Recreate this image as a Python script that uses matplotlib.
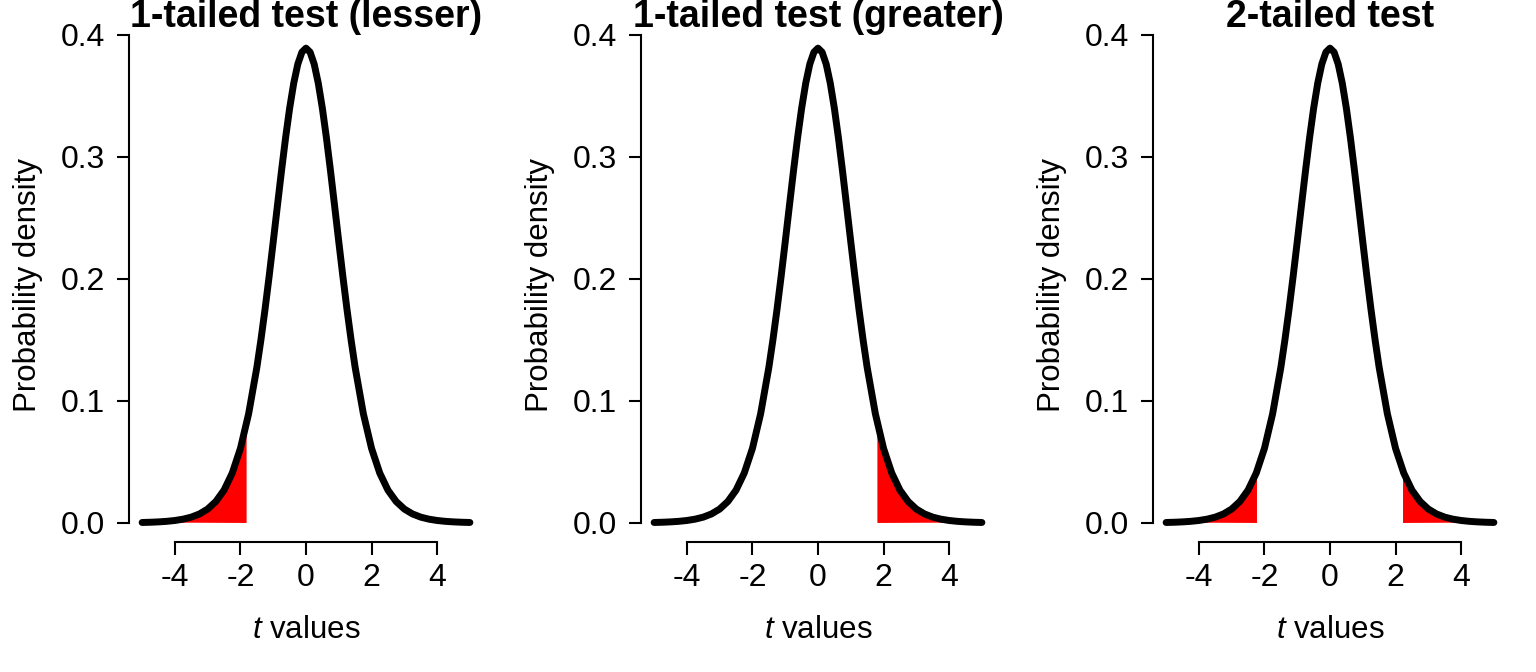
import numpy as np
import matplotlib
matplotlib.use("Agg")
import matplotlib.pyplot as plt

plt.rcParams['font.family'] = ['Liberation Sans', 'DejaVu Sans']
plt.rcParams['mathtext.fontset'] = 'custom'
plt.rcParams['mathtext.it'] = 'Liberation Sans:italic'
plt.rcParams['mathtext.rm'] = 'Liberation Sans'

# density (t >= 0 side, the curve is symmetric)
t_half = [0.0, 0.125, 0.25, 0.375, 0.5, 0.625, 0.75, 0.875, 1.0, 1.125, 1.25, 1.375,
          1.5, 1.75, 2.0, 2.25, 2.5, 2.75, 3.0, 3.25, 3.5, 3.75, 4.0, 4.25, 4.5, 4.75, 5.0]
dens_half = [0.3891, 0.3858, 0.3760, 0.3603, 0.3397, 0.3152, 0.2880, 0.2593, 0.2304, 0.2020,
             0.1751, 0.1501, 0.1274, 0.0895, 0.0611, 0.0409, 0.0269, 0.0176, 0.0114, 0.00738,
             0.00478, 0.00311, 0.00203, 0.00133, 0.000884, 0.000589, 0.000396]

# critical values and density there
crit_one = 1.812
crit_one_dens = 0.0816
crit_two = 2.228
crit_two_dens = 0.0424

titles = ["1-tailed test (lesser)", "1-tailed test (greater)", "2-tailed test"]
yticks = [0.0, 0.1, 0.2, 0.3, 0.4]
xticks = [-4, -2, 0, 2, 4]

t_all = np.array([-v for v in t_half[::-1]] + t_half[1:])
d_all = np.array(dens_half[::-1] + dens_half[1:])


def tail(side, crit, crit_d):
    if side == "lower":
        m = t_all < -crit
        return np.r_[t_all[m], -crit, -crit], np.r_[d_all[m], crit_d, 0]
    m = t_all > crit
    return np.r_[crit, crit, t_all[m]], np.r_[0, crit_d, d_all[m]]


fig = plt.figure(figsize=(15.36, 6.72), dpi=100)
W, H = 1536, 672
lefts = [129, 641, 1153]

for i, left in enumerate(lefts):
    ax = fig.add_axes([left / W, 1 - 542 / H, 354 / W, 514 / H])
    if i == 0:
        regions = [tail("lower", crit_one, crit_one_dens)]
    elif i == 1:
        regions = [tail("upper", crit_one, crit_one_dens)]
    else:
        regions = [tail("lower", crit_two, crit_two_dens), tail("upper", crit_two, crit_two_dens)]
    for rx, ry in regions:
        ax.fill(rx, ry, color="red", lw=0, zorder=1)
    ax.plot(t_all, d_all, color="black", lw=5, solid_capstyle="round",
            solid_joinstyle="round", zorder=2)

    ax.set_xlim(-5.4, 5.4)
    ax.set_ylim(-0.0156, 0.4056)
    for s in ["top", "right"]:
        ax.spines[s].set_visible(False)
    ax.spines["left"].set_bounds(0, 0.4)
    ax.spines["bottom"].set_bounds(-4, 4)
    for s in ["left", "bottom"]:
        ax.spines[s].set_linewidth(1.5)
    ax.set_xticks(xticks, [str(v) for v in xticks])
    ax.set_yticks(yticks, ["%.1f" % v for v in yticks])
    ax.tick_params(axis="both", length=9, width=1.5, labelsize=23)
    ax.tick_params(axis="x", pad=6)
    ax.tick_params(axis="y", pad=8)

    ax.text(0.5, 1.0214, titles[i], transform=ax.transAxes, ha="center", va="center",
            fontsize=27, fontweight="bold")
    ax.text(-0.285, 0.5, "Probability density", transform=ax.transAxes, rotation=90,
            ha="center", va="center", fontsize=22.5)
    ax.text(0.5, -0.171, "$t$ values", transform=ax.transAxes, ha="center", va="center",
            fontsize=22.5)

fig.savefig("out.png", dpi=100)
